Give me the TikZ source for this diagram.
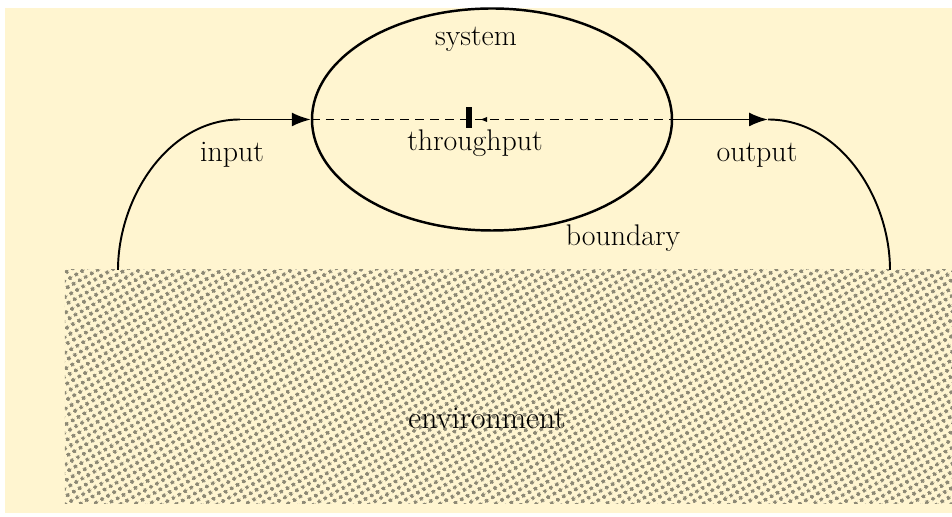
\documentclass[tikz,border=0pt]{standalone}
\usepackage{tikz}
\usetikzlibrary{arrows.meta,patterns.meta,shapes.geometric}
\definecolor{cream}{RGB}{255,245,208}
\definecolor{dotgray}{RGB}{140,136,116}
\newcommand{\mylw}{1.4pt}
\tikzset{
    node style sys/.style={draw,ellipse,line width=\mylw,minimum width=7.2cm,minimum height=4.44cm,inner sep=0pt},
    node style env/.style={rectangle,pattern={Dots[distance=4pt,radius=1.35pt,angle=30]},pattern color=dotgray,inner sep=0pt},
    node style lbl/.style={font=\fontsize{17}{20}\selectfont,inner sep=1pt},
    arrow style io/.style={line width=1.1pt,-{Latex[length=0.38cm,width=0.28cm]}},
}

\begin{document}
\begin{tikzpicture}
\useasboundingbox (0,0) rectangle (19.04,10.34);
\fill[white] (0,0) rectangle (19.04,10.34);
\fill[cream] (0.1,0.08) rectangle (19.04,10.18);

% environment
\node (env) [node style env,minimum width=17.74cm,minimum height=4.68cm] at (10.17,2.60) {};
\node (envlbl) [node style lbl,font=\fontsize{18}{20}\selectfont] at (9.74,1.98) {environment};

% system
\node (sys) [node style sys] at (9.84,7.95) {};
\node (syslbl) [node style lbl] at (9.52,9.56) {system};
\node (bndlbl) [node style lbl] at (12.46,5.58) {boundary};

% throughput
\draw [line width=1.1pt,dash pattern=on 5pt off 3.5pt] (sys.west) -- (sys.east);
\node (mark) [fill=black,minimum width=0.12cm,minimum height=0.42cm,inner sep=0pt] at (9.37,7.98) {};
\fill (9.62,7.95) -- (9.74,8.0) -- (9.74,7.90) -- cycle;
\node (thrlbl) [node style lbl] at (9.50,7.48) {throughput};

% input
\coordinate (infoot) at (2.36,4.94);
\coordinate (inbend) at (4.80,7.95);
\draw [line width=1.1pt] (infoot) to[out=90,in=180,looseness=0.95] (inbend);
\draw [arrow style io] (inbend) -- (sys.west);
\node (inlbl) [node style lbl] at (4.64,7.24) {input};

% output
\coordinate (outbend) at (15.36,7.95);
\coordinate (outfoot) at (17.80,4.94);
\draw [arrow style io] (sys.east) -- (outbend);
\draw [line width=1.1pt] (outbend) to[out=0,in=90,looseness=0.95] (outfoot);
\node (outlbl) [node style lbl] at (15.14,7.24) {output};

\end{tikzpicture}
\end{document}
